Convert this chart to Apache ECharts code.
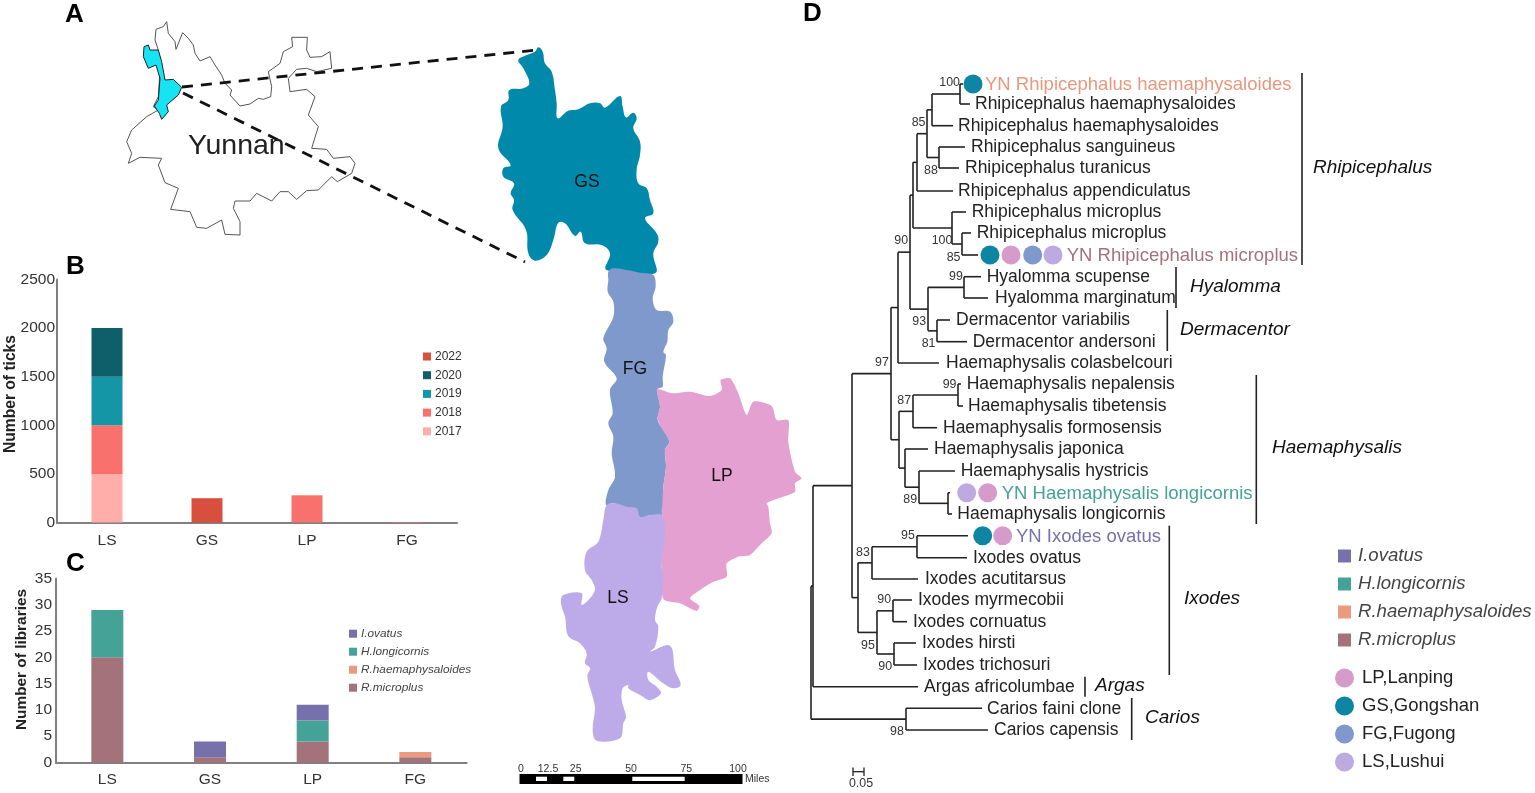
<!DOCTYPE html>
<html><head><meta charset="utf-8">
<style>html,body{margin:0;padding:0;background:#fff}#c{width:1535px;height:793px}</style>
<script src="https://cdn.jsdelivr.net/npm/echarts@6/dist/echarts.min.js"></script>
</head><body><div id="c"></div>
<script>
// ---------- Panel B ----------
const sitesB = ['LS','GS','LP','FG'];
const y2017 = [500,null,null,null];
const y2018 = [500,null,280,5];
const y2019 = [500,null,null,null];
const y2020 = [500,null,null,null];
const y2022 = [null,250,null,null];
// ---------- Panel C ----------
const sitesC = ['LS','GS','LP','FG'];
const rMicroplus = [20,1,4,1];
const rHaema = [null,null,null,1];
const hLongicornis = [9,null,4,null];
const iOvatus = [null,3,3,null];

const FONT = '"Liberation Sans", Arial, sans-serif';

const crop = (ox,oy,pts)=>pts.map(p=>[ox+p[0]/3,oy+p[1]/3]);
const yunnanOutline = crop(50,0,[[350,65],[355,100],[375,125],[378,148],[398,98],[415,115],[430,135],[435,160],[450,183],[480,170],[495,195],[515,225],[525,250],[545,270],[540,285],[570,318],[600,312],[625,295],[640,298],[662,290],[665,260],[655,215],[690,190],[700,155],[728,140],[725,112],[772,112],[770,150],[780,172],[815,170],[840,155],[845,205],[800,215],[770,205],[740,208],[715,235],[720,275],[770,268],[795,290],[775,345],[805,380],[785,445],[830,448],[850,475],[900,470],[915,490],[905,520],[862,545],[845,530],[805,570],[770,572],[740,598],[715,575],[690,575],[665,603],[620,580],[600,603],[555,603],[550,625],[570,665],[570,705],[525,703],[515,660],[470,685],[440,682],[420,635],[362,628],[385,565],[345,548],[325,495],[335,475],[270,472],[235,490],[245,460],[230,425],[245,390],[290,350],[325,330],[310,320],[325,290],[330,210],[325,150],[315,120],[318,88],[340,80]]);
const nujiangInset = crop(50,0,[[282,140],[295,135],[300,150],[325,150],[335,185],[345,240],[370,238],[395,262],[385,285],[350,315],[355,335],[335,358],[328,340],[313,318],[325,300],[330,235],[318,195],[295,205],[280,170]]);
const gsShape = crop(490,40,[[145,22],[158,35],[165,70],[185,95],[195,150],[200,190],[203,235],[235,212],[265,208],[300,190],[330,190],[345,203],[390,168],[398,200],[408,232],[430,218],[440,235],[430,265],[450,305],[450,345],[440,390],[445,430],[470,445],[480,480],[490,520],[465,535],[500,580],[505,605],[490,640],[495,700],[350,690],[360,640],[335,615],[285,610],[272,575],[255,588],[225,550],[205,548],[190,600],[170,645],[135,662],[115,640],[108,570],[68,510],[72,480],[62,460],[72,430],[40,410],[40,385],[62,375],[25,325],[38,260],[33,200],[55,180],[58,150],[100,145],[118,130],[100,85],[85,60],[110,45],[135,35]]);
const fgShape = crop(480,250,[[385,65],[400,55],[440,60],[480,68],[520,75],[527,110],[518,145],[530,180],[570,185],[580,215],[565,240],[562,275],[550,305],[558,315],[548,380],[548,410],[532,418],[540,470],[533,510],[550,540],[568,575],[555,600],[558,650],[550,710],[545,800],[510,795],[480,805],[440,775],[400,760],[378,765],[385,720],[405,680],[395,610],[400,560],[385,520],[398,490],[390,420],[410,385],[373,335],[380,295],[370,265],[400,200],[400,155],[383,125],[385,90]]);
const lpShape = crop(480,250,[[532,418],[575,430],[630,425],[690,438],[725,420],[722,390],[750,385],[775,430],[800,495],[820,455],[875,468],[890,510],[925,510],[925,575],[945,665],[965,685],[945,700],[945,725],[895,745],[860,760]]).concat(crop(500,500,[[805,20],[810,70],[815,100],[780,135],[750,165],[715,170],[680,190],[680,230],[640,245],[600,270],[570,295],[598,318],[590,333],[540,310],[490,297],[485,200],[490,100],[485,20]]),crop(480,250,[[545,800],[550,710],[558,650],[555,600],[568,575],[533,510],[540,470]]));
const lsShape = crop(500,500,[[320,15],[345,10],[380,20],[410,25],[420,50],[450,45],[485,45],[495,85],[485,200],[490,230],[485,295],[472,320],[465,360],[475,380],[465,440],[450,455],[510,437],[525,510],[542,555],[520,565],[490,550],[445,515],[445,540],[470,560],[483,580],[450,600],[420,585],[385,565],[385,555],[368,565],[365,600],[378,650],[370,670],[360,715],[290,722],[278,690],[285,625],[278,590],[262,530],[270,505],[255,490],[260,460],[240,430],[205,408],[195,350],[183,310],[190,285],[245,280],[245,315],[270,295],[285,268],[275,240],[255,210],[260,155],[295,125],[310,60]]);
const mapRegions = [
  {pts:yunnanOutline,fill:'#fff',stroke:'#555',lw:1,smooth:0},
  {pts:nujiangInset,fill:'#16e4f4',stroke:'#222',lw:1,smooth:0},
  {pts:gsShape,fill:'#0089ab',smooth:0.4},
  {pts:fgShape,fill:'#7f99cd',smooth:0.35},
  {pts:lpShape,fill:'#e4a0d1',smooth:0.25},
  {pts:lsShape,fill:'#bcaae9',smooth:0.35}
];
const dashedLinks = [[182,87,537,50],[183,93,525,262]];
const mapScaleBlack = [[519.5,774,742.5,784]];
const mapScaleWhite = [[536,776.7,547,781],[563.3,776.7,574.3,781],[632.3,776.7,684.7,781]];
const mapScaleText = [['0',521,769],['12.5',548,769],['25',575.7,769],['50',631,769],['75',686.3,769],['100',738,769]];

// ---------- Panel D tree ----------
const tipNames = ['YN Rhipicephalus haemaphysaloides','Rhipicephalus haemaphysaloides','Rhipicephalus haemaphysaloides','Rhipicephalus sanguineus','Rhipicephalus turanicus','Rhipicephalus appendiculatus','Rhipicephalus microplus','Rhipicephalus microplus','YN Rhipicephalus microplus','Hyalomma scupense','Hyalomma marginatum','Dermacentor variabilis','Dermacentor andersoni','Haemaphysalis colasbelcouri','Haemaphysalis nepalensis','Haemaphysalis tibetensis','Haemaphysalis formosensis','Haemaphysalis japonica','Haemaphysalis hystricis','YN Haemaphysalis longicornis','Haemaphysalis longicornis','YN Ixodes ovatus','Ixodes ovatus','Ixodes acutitarsus','Ixodes myrmecobii','Ixodes cornuatus','Ixodes hirsti','Ixodes trichosuri','Argas africolumbae','Carios faini clone','Carios capensis'];
const tipY = [84,104,125.7,147,168,191,212,233,255,276.7,298,320,341.7,363,384,406,427.7,449,471,492.7,514,535.7,557.7,579,600,621.7,643,665,686.7,708.3,730];
const tipLabelX = [985,975,958,971,965,958,971.7,976.7,1066.7,986.7,995,956,972.7,946,966.7,968,943,934,960.7,1001.7,957.3,1016,973,925,918,913,922,923,924,987,994];
const tipColor = {0:'#e8987d',8:'#a3727b',19:'#45a296',21:'#7670ab'};
const n = (x,...c)=>({x,c});
const t = (x)=>({x,tip:true});
const treeRoot = n(811,
  n(813,
    n(852,
      n(891,
        n(898,
          n(910,
            n(913,
              n(917,
                n(927, n(932, n(960,t(963),t(970)), t(953)), n(939,t(965),t(959))),
                t(953)),
              n(952, t(966), n(962,t(971),t(978)))),
            n(928, n(964,t(981),t(988)), n(937,t(950),t(967)))),
          t(939)),
        n(899,
          n(913, n(958,t(961),t(963)), t(937)),
          n(905, t(928), n(919, t(955), n(948,t(950),t(952)))))),
      n(858,
        n(872, n(917,t(968),t(967)), t(918)),
        n(877, n(893,t(912),t(907)), n(894,t(916),t(917))))),
    t(918)),
  n(906,t(982),t(988)));
const bootstrapText = [['100',939.3,83],['85',911.7,123],['88',924,170.7],['90',894.3,241],['100',931.7,241],['85',946.7,257.3],['99',949,276.7],['93',912.3,321.7],['81',921.7,343.3],['97',875,362.7],['99',942.7,385],['87',897.3,400.7],['89',903.3,500],['95',901,535.7],['83',856,552.3],['90',877.3,600],['95',861,645.7],['90',878.3,666.7],['98',890,731.7]];
const cladeBars = [[1302,73,1302,265],[1176,267,1176,308],[1167.3,310,1167.3,351],[1256.3,375,1256.3,524],[1169.3,525.7,1169.3,675],[1085,676.7,1085,696.7],[1131.7,698,1131.7,740]];
const cladeText = [['Rhipicephalus',1313,168],['Hyalomma',1190,287],['Dermacentor',1180,330],['Haemaphysalis',1272,448],['Ixodes',1184,599],['Argas',1095,686],['Carios',1145,718]];
const treeScale = [[853,771.7,864,771.7],[853,767.5,853,776],[864,767.5,864,776]];
const panelLetters = [['A',65,15],['B',66,267],['C',66,564],['D',803,14]];
const dotsLP = [[1011,255],[987.7,492.7],[1002.7,535.7]];
const dotsGS = [[973,84],[990,255],[982.7,535.7]];
const dotsFG = [[1032.7,255]];
const dotsLS = [[1053,255],[966.7,492.7]];
const siteLabels = [['GS',587,182],['FG',635,369],['LP',722,476],['LS',618,598]];

// build tree segments from the nested tree
const treeSegs = [];
let tipIdx = 0;
(function walk(node, parentX){
  let y;
  if(node.tip){ y = tipY[tipIdx++]; }
  else {
    const ys = node.c.map(ch=>walk(ch,node.x));
    y = (ys[0]+ys[ys.length-1])/2;
    treeSegs.push([node.x,ys[0],node.x,ys[ys.length-1]]);
  }
  if(parentX!==undefined) treeSegs.push([parentX,y,node.x,y]);
  return y;
})(treeRoot);

const OV = {xAxisIndex:2,yAxisIndex:2,silent:true};
const segSeries = (name,data,stroke,lw,dash,z)=>({...OV,name,type:'custom',z,data,encode:{x:[0,2],y:[1,3]},
  renderItem:(p,api)=>{const a=api.coord([api.value(0),api.value(1)]),b=api.coord([api.value(2),api.value(3)]);
    return {type:'line',shape:{x1:a[0],y1:a[1],x2:b[0],y2:b[1]},style:{stroke,lineWidth:lw,lineDash:dash||null,fill:null}};}});
const rectSeries = (name,data,fill,z)=>({...OV,name,type:'custom',z,data,encode:{x:[0,2],y:[1,3]},
  renderItem:(p,api)=>{const a=api.coord([api.value(0),api.value(1)]),b=api.coord([api.value(2),api.value(3)]);
    return {type:'rect',shape:{x:a[0],y:a[1],width:b[0]-a[0],height:b[1]-a[1]},style:{fill}};}});
const textSeries = (name,items,font,fill,z)=>({...OV,name,type:'custom',z,data:items.map(d=>[d[1],d[2],d[0],d[3]||'']),encode:{x:0,y:1},
  dimensions:['x','y',{name:'t',type:'ordinal'},{name:'c',type:'ordinal'}],
  renderItem:(p,api)=>{const a=api.coord([api.value(0),api.value(1)]);const d=items[p.dataIndex];
    return {type:'text',x:a[0],y:a[1],style:{text:d[0],font:d[5]||font,fill:d[3]||fill,align:d[4]||'left',verticalAlign:'middle'}};}});

const option = {
  animation:false, backgroundColor:'#fff',
  textStyle:{fontFamily:FONT},
  grid:[
    {left:57,width:400,top:279.5,height:243,outerBoundsMode:'none'},
    {left:56,width:410.7,top:578.5,height:184,outerBoundsMode:'none'},
    {left:0,top:0,width:1535,height:793,outerBoundsMode:'none'}
  ],
  xAxis:[
    {gridIndex:0,type:'category',data:sitesB,axisTick:{show:false},axisLine:{lineStyle:{color:'#808080',width:2}},axisLabel:{color:'#333',fontSize:15.5,margin:10,fontFamily:FONT}},
    {gridIndex:1,type:'category',data:sitesC,axisTick:{show:false},axisLine:{lineStyle:{color:'#808080',width:2}},axisLabel:{color:'#333',fontSize:15.5,margin:9,fontFamily:FONT}},
    {gridIndex:2,type:'value',min:0,max:1535,show:false}
  ],
  yAxis:[
    {gridIndex:0,type:'value',min:0,max:2500,interval:500,splitLine:{show:false},axisTick:{show:false},axisLine:{show:true,lineStyle:{color:'#808080',width:2}},axisLabel:{color:'#333',fontSize:15.5,margin:2,fontFamily:FONT,formatter:v=>String(v)},
     name:'Number of ticks',nameLocation:'middle',nameGap:38,nameMoveOverlap:false,nameTextStyle:{color:'#222',fontWeight:'bold',fontSize:15.6,fontFamily:FONT,padding:[0,0,0,14]}},
    {gridIndex:1,type:'value',min:0,max:35,interval:5,splitLine:{show:false},axisTick:{show:false},axisLine:{show:true,lineStyle:{color:'#808080',width:2}},axisLabel:{color:'#333',fontSize:15.5,margin:4,fontFamily:FONT,formatter:v=>String(v)},
     name:'Number of libraries',nameLocation:'middle',nameGap:27,nameMoveOverlap:false,nameTextStyle:{color:'#222',fontWeight:'bold',fontSize:15.4,fontFamily:FONT,padding:[0,0,0,22]}},
    {gridIndex:2,type:'value',min:0,max:793,inverse:true,show:false}
  ],
  legend:[
    {left:423,top:350.5,padding:0,orient:'vertical',itemWidth:8,itemHeight:8,itemGap:6.7,icon:'rect',selectedMode:false,data:['2022','2020','2019','2018','2017'],textStyle:{color:'#333',fontSize:12,fontFamily:FONT,padding:[0,0,0,-1]}},
    {left:349,top:627.7,padding:0,orient:'vertical',itemWidth:8,itemHeight:8,itemGap:6,icon:'rect',selectedMode:false,data:['I.ovatus','H.longicornis','R.haemaphysaloides','R.microplus'],textStyle:{color:'#444',fontSize:11.8,fontStyle:'italic',fontFamily:FONT,padding:[0,0,0,-1]}},
    {left:1338,top:546.5,padding:0,orient:'vertical',itemWidth:13,itemHeight:13,itemGap:9,icon:'rect',selectedMode:false,data:['I.ovatus','H.longicornis','R.haemaphysaloides','R.microplus'],textStyle:{color:'#444',fontSize:18.6,fontStyle:'italic',fontFamily:FONT,padding:[0,0,0,2]}},
    {left:1335,top:668.5,padding:0,orient:'vertical',itemWidth:19,itemHeight:19,itemGap:9,icon:'circle',selectedMode:false,data:['LP,Lanping','GS,Gongshan','FG,Fugong','LS,Lushui'],textStyle:{color:'#222',fontSize:18.5,fontFamily:FONT,padding:[0,0,0,3]}}
  ],
  series:[
    {name:'2017',type:'bar',xAxisIndex:0,yAxisIndex:0,stack:'b',barWidth:31,data:y2017,itemStyle:{color:'#ffaeaa'}},
    {name:'2018',type:'bar',xAxisIndex:0,yAxisIndex:0,stack:'b',barWidth:31,data:y2018,itemStyle:{color:'#f9716d'}},
    {name:'2019',type:'bar',xAxisIndex:0,yAxisIndex:0,stack:'b',barWidth:31,data:y2019,itemStyle:{color:'#1596a6'}},
    {name:'2020',type:'bar',xAxisIndex:0,yAxisIndex:0,stack:'b',barWidth:31,data:y2020,itemStyle:{color:'#0f5f6b'}},
    {name:'2022',type:'bar',xAxisIndex:0,yAxisIndex:0,stack:'b',barWidth:31,data:y2022,itemStyle:{color:'#d84f3e'}},
    {name:'R.microplus',type:'bar',xAxisIndex:1,yAxisIndex:1,stack:'c',barWidth:32,data:rMicroplus,itemStyle:{color:'#a3727b'}},
    {name:'R.haemaphysaloides',type:'bar',xAxisIndex:1,yAxisIndex:1,stack:'c',barWidth:32,data:rHaema,itemStyle:{color:'#ea9a7d'}},
    {name:'H.longicornis',type:'bar',xAxisIndex:1,yAxisIndex:1,stack:'c',barWidth:32,data:hLongicornis,itemStyle:{color:'#45a296'}},
    {name:'I.ovatus',type:'bar',xAxisIndex:1,yAxisIndex:1,stack:'c',barWidth:32,data:iOvatus,itemStyle:{color:'#7670ab'}},
    // panel A
    {...OV,name:'regions',type:'custom',z:2,data:mapRegions.map(()=>[0,0]),encode:{x:0,y:1},
      renderItem:(p,api)=>{const r=mapRegions[p.dataIndex];
        return {type:'polygon',shape:{points:r.pts.map(q=>api.coord(q)),smooth:r.smooth||0},style:{fill:r.fill,stroke:r.stroke||null,lineWidth:r.lw||0}};}},
    segSeries('links',dashedLinks,'#111',2.8,[11,8],3),
    textSeries('yunnan',[['Yunnan',188,146]],'28.5px '+FONT,'#222',4),
    textSeries('sites',siteLabels.map(s=>[s[0],s[1],s[2],'#111','center']),'17.5px '+FONT,'#111',4),
    rectSeries('scaleBlack',mapScaleBlack,'#000',3),
    rectSeries('scaleWhite',mapScaleWhite,'#fff',4),
    textSeries('scaleTicks',mapScaleText.map(s=>[s[0],s[1],s[2],'#333','center']),'10.5px '+FONT,'#333',4),
    textSeries('miles',[['Miles',745,779]],'10.5px '+FONT,'#333',4),
    // panel D
    segSeries('tree',treeSegs,'#222',1.6,null,3),
    segSeries('clades',cladeBars,'#222',1.6,null,3),
    segSeries('treeScale',treeScale,'#222',1.3,null,3),
    textSeries('tips',tipNames.map((s,i)=>[s,tipLabelX[i],tipY[i]+(tipColor[i]?1:0.5),tipColor[i]||'#222','left',tipColor[i]?'18.5px '+FONT:null]),'17.5px '+FONT,'#222',4),
    textSeries('boots',bootstrapText,'12.4px '+FONT,'#333',4),
    textSeries('cladeNames',cladeText,'italic 19px '+FONT,'#111',4),
    textSeries('scaleLbl',[['0.05',861,784,'#333','center']],'12.4px '+FONT,'#333',4),
    textSeries('letters',panelLetters,'bold 26px '+FONT,'#000',5),
    {...OV,name:'LP,Lanping',type:'scatter',symbolSize:19,z:4,data:dotsLP,itemStyle:{color:'#d59ccb',opacity:1}},
    {...OV,name:'GS,Gongshan',type:'scatter',symbolSize:19,z:4,data:dotsGS,itemStyle:{color:'#0e85a3',opacity:1}},
    {...OV,name:'FG,Fugong',type:'scatter',symbolSize:19,z:4,data:dotsFG,itemStyle:{color:'#7f99cd',opacity:1}},
    {...OV,name:'LS,Lushui',type:'scatter',symbolSize:19,z:4,data:dotsLS,itemStyle:{color:'#bcaae0',opacity:1}}
  ]
};
echarts.init(document.getElementById('c'),null,{renderer:'canvas'}).setOption(option);
</script>
</body></html>
